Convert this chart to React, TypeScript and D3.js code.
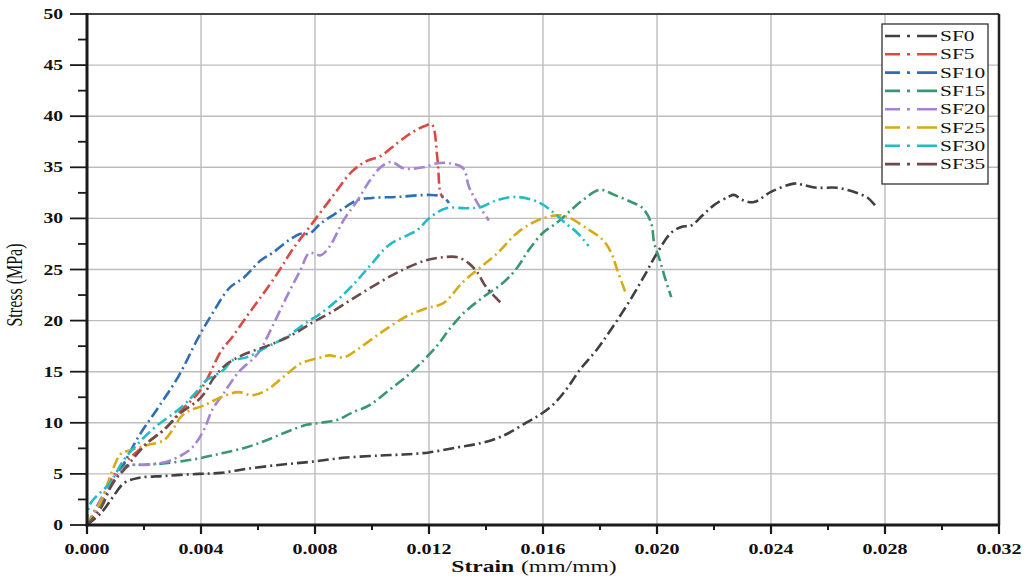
import React from "react";
import * as d3 from "d3";

const SERIES_NAMES = ["SF0", "SF5", "SF10", "SF15", "SF20", "SF25", "SF30", "SF35"];
const SERIES_COLORS = ["#404040", "#d94a43", "#2f6db5", "#3a9870", "#a484d0", "#d8ab16", "#21bcc7", "#6e4b4b"];

const X_TICKS = [0, 0.004, 0.008, 0.012, 0.016, 0.02, 0.024, 0.028, 0.032];
const Y_TICKS = [0, 5, 10, 15, 20, 25, 30, 35, 40, 45, 50];

const SF0: [number, number][] = [[0,0],[0.0005,1.2],[0.0009,2.7],[0.0013,4.1],[0.0018,4.6],[0.0027,4.8],[0.0039,5.0],[0.0047,5.1],[0.0056,5.5],[0.0068,5.9],[0.0079,6.2],[0.0091,6.6],[0.0103,6.8],[0.0111,6.9],[0.0120,7.1],[0.0130,7.6],[0.0138,8.0],[0.0144,8.5],[0.0148,9.0],[0.0154,10.0],[0.0159,10.8],[0.0164,11.9],[0.0168,13.2],[0.0173,15.2],[0.0179,17.2],[0.0185,19.6],[0.0191,22.2],[0.0196,24.6],[0.0200,26.6],[0.0205,28.6],[0.0209,29.2],[0.0212,29.3],[0.0216,30.3],[0.0220,31.3],[0.0225,32.1],[0.0227,32.3],[0.0230,31.8],[0.0234,31.6],[0.0240,32.6],[0.0248,33.4],[0.0251,33.3],[0.0256,33.0],[0.0263,33.0],[0.0269,32.6],[0.0274,32.0],[0.0277,31.1]];
const SF5: [number, number][] = [[0,0],[0.0005,2.2],[0.0009,4.7],[0.0013,6.0],[0.0021,8.0],[0.0028,9.6],[0.0033,11.2],[0.0039,12.9],[0.0042,14.2],[0.0047,17.0],[0.0051,18.4],[0.0056,20.4],[0.0061,22.3],[0.0067,24.7],[0.0072,26.9],[0.0079,29.5],[0.0086,32.1],[0.0093,34.6],[0.0098,35.6],[0.0103,36.1],[0.0109,37.4],[0.0114,38.4],[0.0119,39.1],[0.0121,39.2],[0.0123,35.7],[0.0124,32.5],[0.0125,32.0]];
const SF10: [number, number][] = [[0,0],[0.0010,4.5],[0.0018,8.6],[0.0025,11.5],[0.0032,14.5],[0.0039,18.3],[0.0044,20.7],[0.0050,23.2],[0.0055,24.2],[0.0061,25.9],[0.0065,26.6],[0.0071,27.9],[0.0075,28.5],[0.0078,28.5],[0.0082,29.5],[0.0089,30.8],[0.0095,31.8],[0.0100,32.0],[0.0109,32.1],[0.0120,32.3],[0.0125,32.1],[0.0127,31.5]];
const SF15: [number, number][] = [[0,0],[0.0008,3.7],[0.0013,5.7],[0.0020,5.9],[0.0026,6.0],[0.0037,6.4],[0.0047,7.0],[0.0056,7.6],[0.0063,8.3],[0.0070,9.1],[0.0077,9.8],[0.0082,10.0],[0.0088,10.3],[0.0093,11.0],[0.0099,11.7],[0.0106,13.2],[0.0112,14.5],[0.0117,15.8],[0.0123,17.6],[0.0127,19.1],[0.0132,20.7],[0.0139,22.3],[0.0146,23.7],[0.0151,25.2],[0.0155,26.9],[0.0160,28.6],[0.0165,29.6],[0.0169,30.6],[0.0174,31.8],[0.0180,32.8],[0.0185,32.3],[0.0191,31.6],[0.0195,31.0],[0.0198,29.5],[0.0199,27.6],[0.0201,25.9],[0.0203,24.0],[0.0205,22.3]];
const SF20: [number, number][] = [[0,0],[0.0007,3.5],[0.0014,5.7],[0.0021,5.9],[0.0028,6.2],[0.0033,6.8],[0.0037,7.6],[0.0041,9.3],[0.0044,11.3],[0.0048,12.9],[0.0053,14.9],[0.0060,16.8],[0.0065,19.4],[0.0070,22.3],[0.0075,25.0],[0.0078,26.6],[0.0082,26.4],[0.0085,27.2],[0.0090,29.8],[0.0095,31.8],[0.0099,33.6],[0.0103,35.0],[0.0106,35.5],[0.0108,35.4],[0.0111,34.9],[0.0118,35.0],[0.0123,35.4],[0.0127,35.4],[0.0132,34.9],[0.0134,33.1],[0.0137,31.5],[0.0141,29.8]];
const SF25: [number, number][] = [[0,0],[0.0005,2.4],[0.0009,5.4],[0.0012,7.0],[0.0015,7.3],[0.0021,7.8],[0.0027,8.3],[0.0030,9.3],[0.0033,10.6],[0.0036,11.2],[0.0041,11.7],[0.0047,12.5],[0.0053,13.0],[0.0058,12.7],[0.0063,13.2],[0.0069,14.5],[0.0075,15.8],[0.0082,16.4],[0.0085,16.6],[0.0090,16.4],[0.0095,17.2],[0.0103,18.8],[0.0112,20.4],[0.0119,21.2],[0.0125,21.7],[0.0132,23.8],[0.0138,25.2],[0.0144,26.6],[0.0151,28.6],[0.0158,29.8],[0.0165,30.3],[0.0169,30.1],[0.0176,28.9],[0.0181,27.9],[0.0184,26.6],[0.0186,25.0],[0.0189,22.7]];
const SF30: [number, number][] = [[0,0],[0.0001,2.0],[0.0008,4.1],[0.0013,6.4],[0.0018,8.0],[0.0024,9.6],[0.0033,11.5],[0.0039,13.2],[0.0042,14.2],[0.0044,14.5],[0.0048,15.2],[0.0051,16.1],[0.0056,16.4],[0.0063,17.4],[0.0070,18.4],[0.0077,19.8],[0.0082,20.7],[0.0089,22.3],[0.0095,24.0],[0.0100,25.6],[0.0106,27.4],[0.0116,28.9],[0.0120,30.0],[0.0126,31.0],[0.0133,31.0],[0.0138,31.1],[0.0144,31.8],[0.0151,32.1],[0.0159,31.5],[0.0164,30.5],[0.0168,29.5],[0.0172,28.6],[0.0176,27.3]];
const SF35: [number, number][] = [[0,0],[0.0005,1.7],[0.0009,4.1],[0.0013,5.4],[0.0021,8.0],[0.0027,9.3],[0.0033,11.0],[0.0039,12.2],[0.0042,13.2],[0.0044,14.2],[0.0048,15.5],[0.0051,16.1],[0.0056,16.8],[0.0064,17.6],[0.0072,18.6],[0.0079,19.8],[0.0085,20.7],[0.0093,22.1],[0.0103,23.8],[0.0111,25.0],[0.0119,25.9],[0.0125,26.2],[0.0130,26.2],[0.0134,25.6],[0.0137,24.7],[0.0140,23.3],[0.0145,21.8]];

const SERIES_DATA = [SF0, SF5, SF10, SF15, SF20, SF25, SF30, SF35];

const W = 1028, H = 587;
const L = 87, R = 999, T = 14, B = 525;
const FONT = "'Liberation Serif', 'Times New Roman', serif";
const DASH = "11,4,2,4";

export default function App() {
  const x = d3.scaleLinear().domain([0, 0.032]).range([L, R]);
  const y = d3.scaleLinear().domain([0, 50]).range([B, T]);
  const line = d3.line<[number, number]>().x(d => x(d[0])).y(d => y(d[1])).curve(d3.curveCatmullRom.alpha(0.5));
  const xMinor = d3.range(0.002, 0.032, 0.004);
  const yMinor = d3.range(2.5, 50, 5);
  const fx = d3.format(".3f");
  return (
    <svg width={W} height={H} style={{ position: "absolute", left: 0, top: 0, background: "#fff" }} fontFamily={FONT}>
      <defs>
        <clipPath id="plot"><rect x={L} y={T} width={R - L} height={B - T} /></clipPath>
      </defs>
      <rect x={0} y={0} width={W} height={H} fill="#fff" />
      {/* grid */}
      {X_TICKS.slice(1, -1).map(t => <line key={"gx" + t} x1={x(t)} x2={x(t)} y1={T} y2={B} stroke="#bdbdbd" strokeWidth={1.4} />)}
      {Y_TICKS.slice(1, -1).map(t => <line key={"gy" + t} x1={L} x2={R} y1={y(t)} y2={y(t)} stroke="#bdbdbd" strokeWidth={1.4} />)}
      {/* frame */}
      <line x1={L} x2={R} y1={T} y2={T} stroke="#444" strokeWidth={2} />
      <line x1={R} x2={R} y1={T} y2={B} stroke="#222" strokeWidth={2.5} />
      {/* series */}
      <g clipPath="url(#plot)">
        {SERIES_DATA.map((d, i) => (
          <path key={SERIES_NAMES[i]} d={line(d) || ""} fill="none" stroke={SERIES_COLORS[i]} strokeWidth={2.6} strokeDasharray={DASH} strokeLinecap="butt" strokeLinejoin="round" />
        ))}
      </g>
      {/* axes */}
      <line x1={L} x2={L} y1={T - 1} y2={B + 1.5} stroke="#1a1a1a" strokeWidth={3} />
      <line x1={L - 1.5} x2={R + 1} y1={B} y2={B} stroke="#1a1a1a" strokeWidth={3} />
      {X_TICKS.map(t => <line key={"xt" + t} x1={x(t)} x2={x(t)} y1={B} y2={B + 9} stroke="#1a1a1a" strokeWidth={2.2} />)}
      {xMinor.map(t => <line key={"xm" + t} x1={x(t)} x2={x(t)} y1={B} y2={B + 5} stroke="#1a1a1a" strokeWidth={2} />)}
      {Y_TICKS.map(t => <line key={"yt" + t} x1={L - 17} x2={L} y1={y(t)} y2={y(t)} stroke="#1a1a1a" strokeWidth={1.8} />)}
      {yMinor.map(t => <line key={"ym" + t} x1={L - 9} x2={L} y1={y(t)} y2={y(t)} stroke="#1a1a1a" strokeWidth={1.8} />)}
      {X_TICKS.map(t => (
        <text key={"xl" + t} transform={`translate(${x(t)},554) scale(1.38,1)`} textAnchor="middle" fontSize={14.5} fontWeight="bold" fill="#111">{fx(t)}</text>
      ))}
      {Y_TICKS.map(t => (
        <text key={"yl" + t} transform={`translate(63,${y(t) + 5}) scale(1.4,1)`} textAnchor="end" fontSize={14} fontWeight="bold" fill="#111">{t}</text>
      ))}
      <text transform={`translate(534,572) scale(1.35,1)`} textAnchor="middle" fontSize={17.5} fill="#111">
        <tspan fontWeight="bold">Strain</tspan><tspan dx={5}>(mm/mm)</tspan>
      </text>
      <text transform={`translate(22,285) rotate(-90) scale(1,1.4)`} textAnchor="middle" fontSize={16} fill="#111">Stress (MPa)</text>
      {/* legend */}
      <rect x={882} y={24} width={106} height={160} fill="#fff" stroke="#222" strokeWidth={1.2} />
      {SERIES_NAMES.map((n, i) => {
        const cy = 36 + i * 18.3;
        return (
          <g key={"lg" + n}>
            <line x1={885} x2={937} y1={cy} y2={cy} stroke={SERIES_COLORS[i]} strokeWidth={2.6} strokeDasharray="15,7,3,7,20" />
            <text transform={`translate(940,${cy + 5}) scale(1.55,1)`} fontSize={13.8} fill="#111">{n}</text>
          </g>
        );
      })}
    </svg>
  );
}
